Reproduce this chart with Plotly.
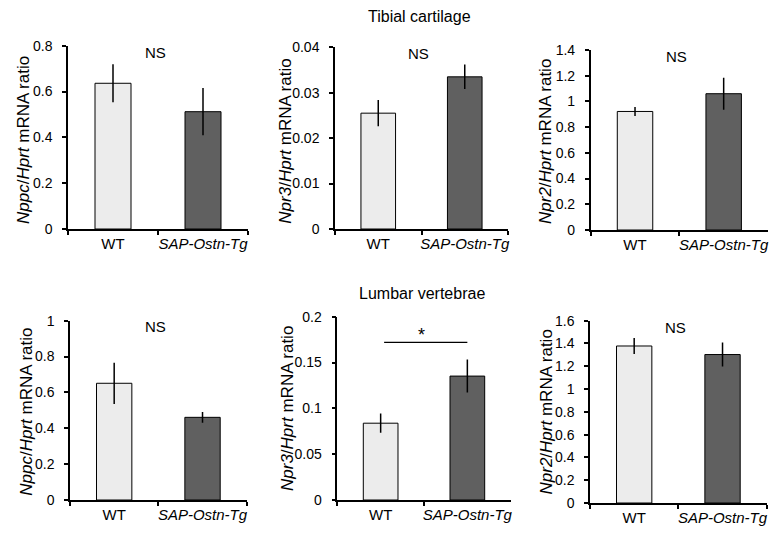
import plotly.graph_objects as go

W, H = 784, 539

categories = ["WT", "<i>SAP-Ostn-Tg</i>"]

# Values (mean) and error (SEM) per panel: [WT, SAP-Ostn-Tg]
tib_nppc = [0.636, 0.512]
tib_nppc_err = [0.083, 0.103]
tib_npr3 = [0.0255, 0.0335]
tib_npr3_err = [0.0029, 0.0027]
tib_npr2 = [0.922, 1.06]
tib_npr2_err = [0.035, 0.125]
lum_nppc = [0.651, 0.461]
lum_nppc_err = [0.115, 0.03]
lum_npr3 = [0.0838, 0.1352]
lum_npr3_err = [0.0105, 0.018]
lum_npr2 = [1.378, 1.303]
lum_npr2_err = [0.07, 0.105]

y_titles = ["<i>Nppc</i>/<i>Hprt</i> mRNA ratio",
            "<i>Npr3</i>/<i>Hprt</i> mRNA ratio",
            "<i>Npr2</i>/<i>Hprt</i> mRNA ratio"] * 2
y_ranges = [0.8, 0.04, 1.4, 1.0, 0.2, 1.6]
y_dtick = [0.2, 0.01, 0.2, 0.2, 0.05, 0.2]
sig_labels = ["NS", "NS", "NS", "NS", "*", "NS"]
sig_line_y = 0.172
star_y = 0.180
section_titles = ["Tibial cartilage", "Lumbar vertebrae"]

values = [tib_nppc, tib_npr3, tib_npr2, lum_nppc, lum_npr3, lum_npr2]
errors = [tib_nppc_err, tib_npr3_err, tib_npr2_err, lum_nppc_err, lum_npr3_err, lum_npr2_err]

# panel pixel boxes: (x0, x1, ytop, ybottom)
boxes = [(68, 248, 45.7, 229), (335, 508, 47.3, 229), (590.7, 768, 50, 230),
         (70, 246.7, 320.7, 500), (337.3, 510.7, 316.7, 500), (590, 766.7, 320.7, 503)]
# y-title centre positions in pixels (x, y)
ytitle_pos = [(23, 140), (286, 141.7), (546, 142), (27, 411.7), (287, 409), (546, 412.5)]

FONT = "Liberation Sans, Arial, Helvetica, sans-serif"
bar_colors = ["#ececec", "#606060"]

fig = go.Figure()
layout = dict(width=W, height=H, margin=dict(l=0, r=0, t=0, b=0, autoexpand=False),
              paper_bgcolor="white", plot_bgcolor="white", showlegend=False,
              font=dict(family=FONT, size=15, color="black"))
annotations = []
shapes = []

for i in range(6):
    sfx = "" if i == 0 else str(i + 1)
    x0, x1, yt, yb = boxes[i]
    fig.add_trace(go.Bar(
        x=categories, y=values[i],
        marker=dict(color=bar_colors, line=dict(color="black", width=1)),
        error_y=dict(type="data", array=errors[i], color="black", thickness=1.5, width=0),
        xaxis="x" + sfx, yaxis="y" + sfx, width=0.4,
    ))
    layout["xaxis" + sfx] = dict(
        domain=[x0 / W, x1 / W], anchor="y" + sfx, type="category",
        tickson="boundaries", ticks="outside", ticklen=4, tickwidth=1.5,
        tickcolor="black", showline=True, linecolor="black", linewidth=1.5,
        showgrid=False, zeroline=False, tickfont=dict(size=15), range=[-0.5, 1.5],
        tickangle=0, automargin=False, fixedrange=True,
    )
    layout["yaxis" + sfx] = dict(
        domain=[1 - yb / H, 1 - yt / H], anchor="x" + sfx,
        range=[0, y_ranges[i]], dtick=y_dtick[i], tick0=0,
        ticks="outside", ticklen=4, tickwidth=1.5, tickcolor="black",
        showline=True, linecolor="black", linewidth=1.5, showgrid=False,
        zeroline=False, tickfont=dict(size=14), ticklabelstandoff=7,
        automargin=False, fixedrange=True,
    )
    tx, ty = ytitle_pos[i]
    annotations.append(dict(
        text=y_titles[i], x=tx / W, y=1 - ty / H, xref="paper", yref="paper",
        textangle=-90, showarrow=False, xanchor="center", yanchor="middle",
        font=dict(size=17),
    ))
    is_ns = sig_labels[i] == "NS"
    annotations.append(dict(
        text=sig_labels[i], x=0.47, y=y_ranges[i] * 0.965 if is_ns else star_y,
        xref="x" + sfx, yref="y" + sfx, showarrow=False, yanchor="middle",
        font=dict(size=15 if is_ns else 18),
    ))

shapes.append(dict(type="line", xref="x5", yref="y5", x0=0.04, x1=1.0,
                   y0=sig_line_y, y1=sig_line_y, line=dict(color="black", width=1.2)))

annotations.append(dict(text=section_titles[0], x=419 / W, y=1 - 17 / H, xref="paper",
                        yref="paper", showarrow=False, yanchor="middle",
                        font=dict(size=16)))
annotations.append(dict(text=section_titles[1], x=422 / W, y=1 - 293 / H, xref="paper",
                        yref="paper", showarrow=False, yanchor="middle",
                        font=dict(size=16)))

layout["annotations"] = annotations
layout["shapes"] = shapes
fig.update_layout(**layout)
fig.write_html("out.html", config={"displayModeBar": False},
               post_script="document.body.style.margin='0';")
